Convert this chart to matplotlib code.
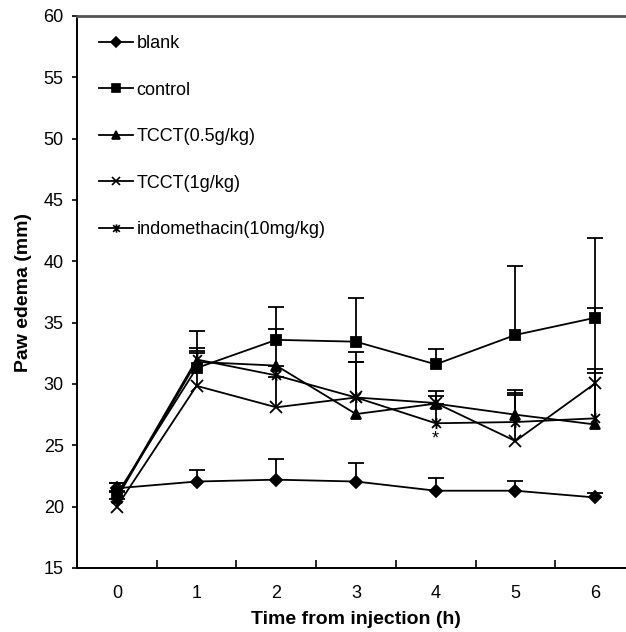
import numpy as np
import matplotlib
matplotlib.use('Agg')
import matplotlib.pyplot as plt
from matplotlib.path import Path
from matplotlib.lines import Line2D

plt.rcParams['font.family'] = ['Liberation Sans', 'DejaVu Sans']

# time points (h)
hours = [0, 1, 2, 3, 4, 5, 6]
tick_labels = ['0', '1', '2', '3', '4', '5', '6']

# paw edema (mm)
blank     = [21.5, 22.05, 22.2, 22.05, 21.3, 21.3, 20.75]
control   = [21.0, 31.3, 33.6, 33.45, 31.6, 34.0, 35.4]
tcct_05   = [20.7, 31.8, 31.5, 27.55, 28.4, 27.5, 26.7]
tcct_1    = [20.0, 29.85, 28.1, 28.9, 28.45, 25.35, 30.05]
indometh  = [20.8, 32.0, 30.7, 28.9, 26.8, 26.9, 27.2]

# upper error bars (mm)
blank_err    = [0.4, 0.95, 1.7, 1.5, 1.0, 0.8, 0.35]
control_err  = [0.9, 3.0, 2.7, 3.55, 1.25, 5.65, 6.5]
tcct_05_err  = [0.5, 0.9, 3.0, 4.25, 1.05, 2.0, 9.5]
tcct_1_err   = [0.6, 2.65, 2.5, 3.7, 0.6, 3.75, 0.85]
indometh_err = [0.5, 0.9, 0.8, 2.9, 1.6, 2.4, 4.0]

labels = ['blank', 'control', 'TCCT(0.5g/kg)', 'TCCT(1g/kg)', 'indomethacin(10mg/kg)']

# excel style asterisk: x with a vertical bar
asterisk = Path([(-1, -1), (1, 1), (-1, 1), (1, -1), (0, -1.25), (0, 1.25)],
                [Path.MOVETO, Path.LINETO, Path.MOVETO, Path.LINETO, Path.MOVETO, Path.LINETO])

series = [
    (blank, blank_err, 'D', 6.5),
    (control, control_err, 's', 7.5),
    (tcct_05, tcct_05_err, '^', 7.5),
    (tcct_1, tcct_1_err, 'x', 8),
    (indometh, indometh_err, asterisk, 8),
]

fig = plt.figure(figsize=(6.26, 6.32), dpi=100)
ax = fig.add_axes([77/626, 64/632, 558/626, 552/632])

handles = []
for (vals, err, mk, ms), lab in zip(series, labels):
    vals = np.array(vals)
    err = np.array(err)
    line, caps, bars = ax.errorbar(hours, vals, yerr=[np.zeros_like(err), err],
                                   color='black', marker=mk, markersize=ms,
                                   markeredgewidth=1.3, linewidth=1.3,
                                   elinewidth=1.3, capsize=6, capthick=1.3)
    caps[0].set_visible(False)
    handles.append(Line2D([], [], color='black', marker=mk, markersize=ms * 0.75,
                          markeredgewidth=1.2, linewidth=1.3, label=lab))

# significance mark
ax.text(4, 25.55, '*', ha='center', va='center', fontsize=13)

ax.set_xlim(-0.5, 6.5)
ax.set_ylim(15, 60)
ax.set_yticks(np.arange(15, 61, 5))
ax.tick_params(axis='y', direction='out', length=3.5, width=1.2, labelsize=13, pad=6)
ax.set_xticks(hours)
ax.set_xticklabels(tick_labels)
ax.set_xticks(np.arange(0.5, 6, 1), minor=True)
ax.tick_params(axis='x', which='major', length=0, pad=12, labelsize=13)
ax.tick_params(axis='x', which='minor', direction='in', length=6, width=1.2)

for s in ['left', 'bottom']:
    ax.spines[s].set_linewidth(1.4)
ax.spines['top'].set_linewidth(2.0)
ax.spines['top'].set_color('#555555')
ax.spines['right'].set_visible(False)

ax.set_ylabel('Paw edema (mm)', fontsize=14, fontweight='bold', labelpad=8)
ax.set_xlabel('Time from injection (h)', fontsize=14, fontweight='bold', labelpad=7)

ax.legend(handles=handles, loc='upper left', bbox_to_anchor=(0.026, 0.978), frameon=False,
          fontsize=13, handlelength=1.9, handletextpad=0.2, labelspacing=1.63,
          numpoints=1, borderaxespad=0)

plt.savefig('out.png', dpi=100)
